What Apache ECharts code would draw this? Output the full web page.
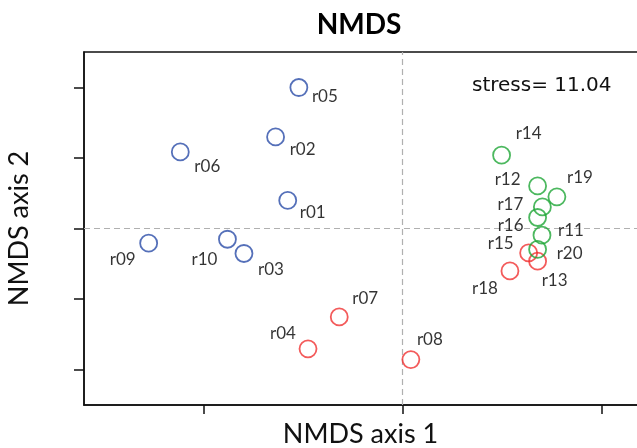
<!DOCTYPE html>
<html>
<head>
<meta charset="utf-8">
<script src="https://cdn.jsdelivr.net/npm/echarts@6/dist/echarts.min.js"></script>
<style>html,body{margin:0;padding:0;background:#fff}#c{width:637px;height:448px}</style>
</head>
<body>
<div id="c"></div>
<script>
// NMDS site scores (axis 1, axis 2)
const blueNames = ['r01','r02','r03','r05','r06','r09','r10'];
const blueX = [-0.576,-0.637,-0.796,-0.520,-1.116,-1.275,-0.879];
const blueY = [0.397,1.297,-0.354,1.997,1.085,-0.208,-0.152];

const redNames = ['r04','r07','r08','r13','r15','r18'];
const redX = [-0.474,-0.317,0.043,0.680,0.635,0.541];
const redY = [-1.705,-1.252,-1.856,-0.463,-0.346,-0.601];

const greenNames = ['r11','r12','r14','r16','r17','r19','r20'];
const greenX = [0.702,0.680,0.499,0.680,0.704,0.777,0.680];
const greenY = [-0.095,0.603,1.038,0.156,0.306,0.448,-0.297];

const xTicks = [-1,0,1];
const yTicks = [-2,-1,0,1,2];
const stressText = 'stress= 11.04';

// label placement (layout only)
const labelOffsets = {
  r01:[25,12], r02:[27,13], r03:[27,16], r05:[26,9], r06:[27,15], r09:[-26,16], r10:[-23,20],
  r04:[-25,-15], r07:[26,-18], r08:[19,-20], r13:[17,19], r15:[-28,-9], r18:[-25,18],
  r11:[29,-5], r12:[-30,-6], r14:[27,-22], r16:[-27,8], r17:[-32,-2], r19:[23,-19], r20:[32,4]
};

const FONT = 'Lato';
function mk(names, xs, ys) {
  return names.map((n,i)=>({
    value:[xs[i], ys[i]], name:n,
    label:{offset: labelOffsets[n]}
  }));
}
function series(names, xs, ys, color, extra) {
  return Object.assign({
    type:'scatter',
    data: mk(names, xs, ys),
    symbol:'circle', symbolSize:17,
    itemStyle:{color:'rgba(255,255,255,0)', borderColor:color, borderWidth:1.8},
    label:{show:true, position:'inside', formatter:'{b}', color:'#000', fontFamily:FONT, fontSize:17, textBorderWidth:0},
    emphasis:{disabled:true},
    silent:true, z:3
  }, extra||{});
}

const chart = echarts.init(document.getElementById('c'));
chart.setOption({
  animation:false,
  grid:{left:84, top:52, height:353, width:567, containLabel:false, outerBoundsMode:'none',
    show:true, borderColor:'#111', borderWidth:1.5, backgroundColor:'transparent'},
  xAxis:{type:'value', min:-1.6, max:1.25,
    name:'NMDS axis 1', nameLocation:'middle', nameGap:16,
    nameTextStyle:{fontFamily:FONT, fontSize:27, color:'#111', padding:[0,14,0,0]},
    axisLine:{show:true, onZero:false, lineStyle:{color:'#111', width:1.5}},
    axisTick:{show:true, inside:false, length:9, customValues:xTicks, lineStyle:{color:'#111', width:1.5}},
    axisLabel:{show:false}, splitLine:{show:false}},
  yAxis:{type:'value', min:-2.5, max:2.5,
    name:'NMDS axis 2', nameLocation:'middle', nameGap:51,
    nameTextStyle:{fontFamily:FONT, fontSize:27, color:'#111'},
    axisLine:{show:true, onZero:false, lineStyle:{color:'#111', width:1.5}},
    axisTick:{show:true, inside:false, length:10, customValues:yTicks, lineStyle:{color:'#111', width:1.5}},
    axisLabel:{show:false}, splitLine:{show:false}},
  graphic:[
    {type:'text', x:359, y:11, style:{text:'NMDS', textAlign:'center', fontFamily:FONT, fontWeight:'bold', fontSize:28, fill:'#000'}},
    {type:'text', x:472, y:76, style:{text:stressText, fontFamily:'DejaVu Sans', fontSize:20, fill:'#111'}}
  ],
  series:[
    series(blueNames, blueX, blueY, '#2b4ca8', {
      markLine:{silent:true, symbol:'none', label:{show:false},
        lineStyle:{color:'#b0b0b0', type:[6,4], width:1.2},
        data:[{xAxis:0},{yAxis:0}], z:1}
    }),
    series(redNames, redX, redY, '#f03232'),
    series(greenNames, greenX, greenY, '#1fa637')
  ]
});
</script>
</body>
</html>
